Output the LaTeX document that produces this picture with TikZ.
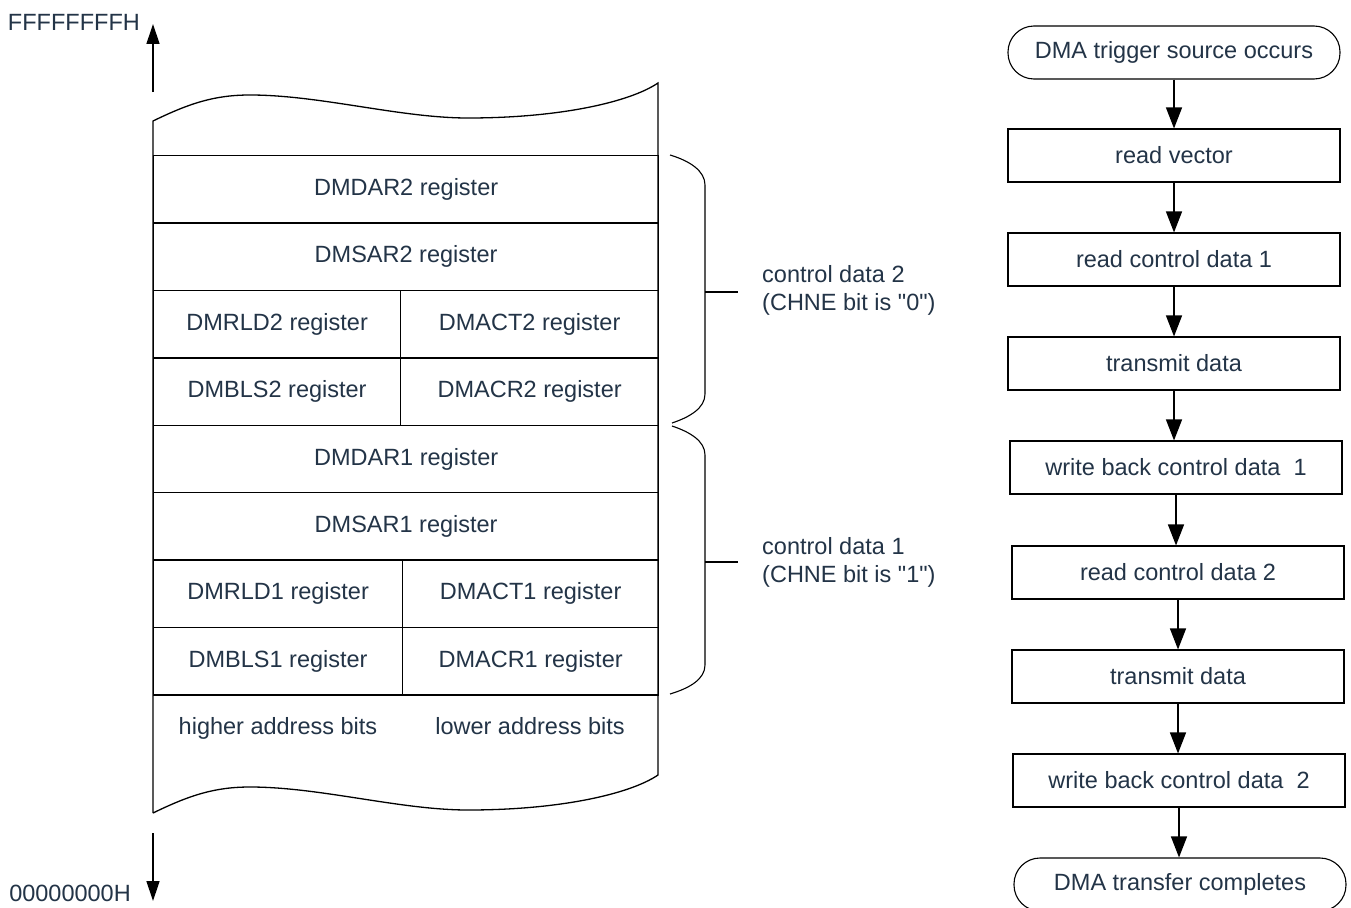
\documentclass[tikz,border=0pt]{standalone}
\usepackage{fontspec}
\setmainfont{Liberation Sans}
\usetikzlibrary{arrows.meta}
\definecolor{txt}{HTML}{233447}
\newcommand{\fsz}{\fontsize{23.5}{28}\selectfont}
\begin{document}
\begin{tikzpicture}[x=1pt,y=-1pt,
  every node/.style={text=txt,font=\fsz},
  cell/.style={draw=black,line width=1.3pt,minimum height=67.4pt,inner sep=0pt,anchor=north west},
  flowbox/.style={draw=black,line width=1.1pt,minimum width=332pt,minimum height=53pt,inner sep=0pt},
  term/.style={flowbox,rounded corners=26pt},
  flowarr/.style={draw=black,line width=1.3pt,-{Triangle[width=16pt,length=21pt]}},
  addrarr/.style={draw=black,line width=1.3pt,-{Triangle[width=13pt,length=20pt]}},
  edge/.style={draw=black,line width=1.3pt},
  brace/.style={draw=black,line width=1.1pt}]
\useasboundingbox (0,0) rectangle (1351,907);
\fill[white] (0,0) rectangle (1351,907);

% memory column outline
\draw[edge] (153,813) -- (153,121)
  .. controls (190,103) and (215,95) .. (250,95)
  .. controls (320,95) and (400,118) .. (468,118)
  .. controls (560,118) and (630,102) .. (658,83) -- (658,775)
  .. controls (630,794) and (560,810) .. (468,810)
  .. controls (400,810) and (320,787) .. (250,787)
  .. controls (215,787) and (190,795) .. (153,813);

% cells
\node[cell,minimum width=505pt] (dar2) at (153,155) {DMDAR2 register};
\node[cell,minimum width=505pt] (sar2) at (153,222.4) {DMSAR2 register};
\node[cell,minimum width=247pt] (rld2) at (153,289.8) {DMRLD2 register};
\node[cell,minimum width=258pt] (act2) at (400,289.8) {DMACT2 register};
\node[cell,minimum width=247pt] (bls2) at (153,357.2) {DMBLS2 register};
\node[cell,minimum width=258pt] (acr2) at (400,357.2) {DMACR2 register};
\node[cell,minimum width=505pt] (dar1) at (153,424.6) {DMDAR1 register};
\node[cell,minimum width=505pt] (sar1) at (153,492) {DMSAR1 register};
\node[cell,minimum width=249pt] (rld1) at (153,559.4) {DMRLD1 register};
\node[cell,minimum width=256pt] (act1) at (402,559.4) {DMACT1 register};
\node[cell,minimum width=249pt] (bls1) at (153,626.8) {DMBLS1 register};
\node[cell,minimum width=256pt] (acr1) at (402,626.8) {DMACR1 register};
\node[anchor=base] (hi) at (278,734) {higher address bits};
\node[anchor=base] (lo) at (530,734) {lower address bits};

% address arrows
\coordinate (upbase) at (153,92);
\coordinate (uptip) at (153,24);
\coordinate (dnbase) at (153,833);
\coordinate (dntip) at (153,901);
\draw[addrarr] (upbase) -- (uptip);
\draw[addrarr] (dnbase) -- (dntip);
\node[anchor=east,inner sep=0pt] (ftop) at (140,22) {FFFFFFFFH};
\node[anchor=east,inner sep=0pt] (zbot) at (131,893) {00000000H};

% braces
\draw[brace] (670,155) .. controls (690,161) and (705,171) .. (705,185) -- (705,394)
  .. controls (705,408) and (690,417) .. (672,423);
\draw[brace] (705,292) -- (738,292);
\draw[brace] (672,426) .. controls (690,432) and (705,441) .. (705,455) -- (705,665)
  .. controls (705,679) and (690,688) .. (670,694);
\draw[brace] (705,562) -- (738,562);
\node[anchor=west,align=left,inner sep=0pt] (cd2) at (762,290) {control data 2\\(CHNE bit is \textquotedbl 0\textquotedbl)};
\node[anchor=west,align=left,inner sep=0pt] (cd1) at (762,562) {control data 1\\(CHNE bit is \textquotedbl 1\textquotedbl)};

% flowchart
\node[term] (f1) at (1174,52.5) {DMA trigger source occurs};
\node[flowbox] (f2) at (1174,155.5) {read vector};
\node[flowbox] (f3) at (1174,259.5) {read control data 1};
\node[flowbox] (f4) at (1174,363.5) {transmit data};
\node[flowbox] (f5) at (1176,467.5) {write back control data\ \ 1};
\node[flowbox] (f6) at (1178,572.5) {read control data 2};
\node[flowbox] (f7) at (1178,676.5) {transmit data};
\node[flowbox] (f8) at (1179,780.5) {write back control data\ \ 2};
\node[term] (f9) at (1180,884.5) {DMA transfer completes};
\foreach \a/\b in {f1/f2,f2/f3,f3/f4,f4/f5,f5/f6,f6/f7,f7/f8,f8/f9}
  \draw[flowarr] (\a.south) -- (\a.south |- \b.north);
\end{tikzpicture}
\end{document}
